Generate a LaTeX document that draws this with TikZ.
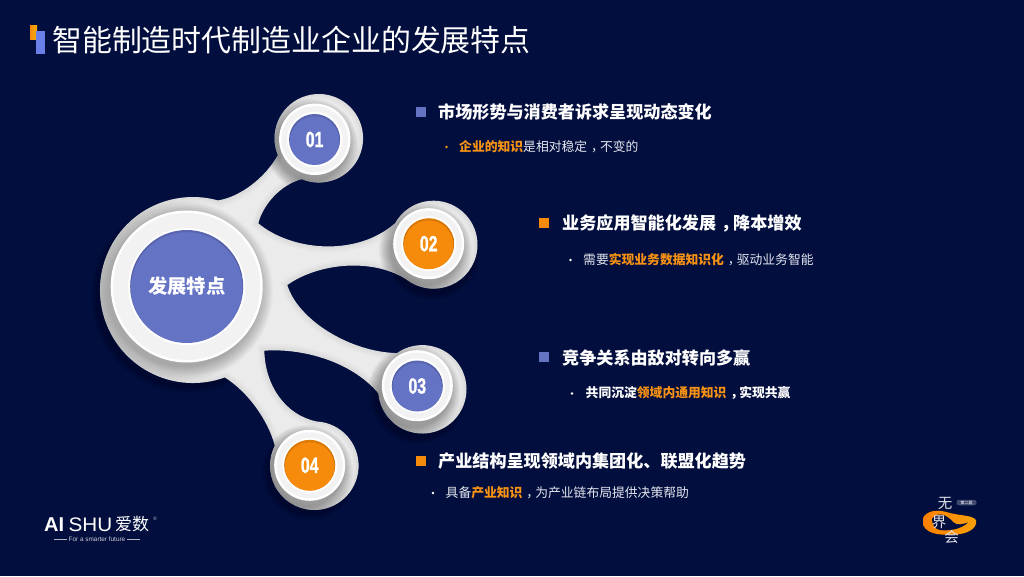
\documentclass[tikz,border=0pt]{standalone}
\usepackage{fontspec}
\setmainfont{Noto Sans CJK SC}
\newfontfamily\numf[FakeStretch=0.72,BoldFeatures={FakeBold=1.2}]{Liberation Sans}
\newfontfamily\latf{Liberation Sans}
\newfontfamily\widef[FakeStretch=1.06]{Liberation Sans}
\definecolor{bgc}{HTML}{020E3E}
\definecolor{bluec}{HTML}{6573C5}
\definecolor{orangec}{HTML}{F58A0B}
\definecolor{subc}{HTML}{E4E6EE}
\definecolor{hl}{HTML}{F79214}
\newcommand{\fs}[1]{\fontsize{#1pt}{#1pt}\selectfont}
\newcommand{\hlt}[1]{{\color{hl}\bfseries #1}}
\newcommand{\cma}{\hspace{.3em}，\hspace{-.3em}}
\newcommand{\blobpath}{(218.0,200.4)
  .. controls (240,197) and (265,178) .. (277.84,155.18)
  arc[start angle=202.4,end angle=-112.8,radius=44.3pt]
  .. controls (280,185) and (263,205) .. (258.3,223.3)
  .. controls (290,250) and (355,258) .. (395.05,223.3)
  arc[start angle=150.9,end angle=-125.5,radius=44pt]
  .. controls (375,258) and (320,262) .. (287.3,285)
  .. controls (298,320) and (350,352) .. (396.95,353.1)
  arc[start angle=125,end angle=-175,radius=44.2pt]
  .. controls (350,360) and (300,348) .. (264.3,350.7)
  .. controls (265,385) and (285,415) .. (316.6,421.46)
  arc[start angle=87,end angle=-207,radius=44.3pt]
  .. controls (268,420) and (248,392) .. (224.8,377.4)
  arc[start angle=-70,end angle=-285.6,radius=93pt] -- cycle}
\tikzset{
  x=1pt,y=-1pt,
  heading/.style={anchor=west,inner sep=0pt,text=white,font=\fs{17.1}\bfseries},
  subtext/.style={anchor=west,inner sep=0pt,text=subc,font=\fs{12.8}},
  squarebullet/.style={inner sep=0pt,minimum size=10pt},
  dotbullet/.style={circle,inner sep=0pt,minimum size=2.6pt},
  disc/.style args={#1/#2}{circle,inner sep=0pt,minimum size=#2,fill=#1,text=white,
    path picture={
      \foreach \k in {0.5,1.0,1.5,2.0}
        \draw[black,opacity=.05,line width=1pt]
          ([yshift=-\k pt]path picture bounding box.center) circle[radius=#2/2];
    }},
  numtext/.style={font=\numf\fs{22}\bfseries},
}
\newcommand{\softshadow}[5]{% cx cy r steps alpha
  \foreach \i in {#4,...,0}{
    \fill[black,opacity=#5] (#1,#2) circle[radius=#3pt+\i pt];
  }}
\newcommand{\ringat}[4]{% cx cy r band
  \fill[white] (#1,#2) circle[radius=#3 pt];
  \fill[black!5] (#1,#2) circle[radius=#3pt-2.5pt];
  \fill[white] (#1,#2) circle[radius=#3pt-#4pt];
}
\begin{document}
\begin{tikzpicture}
\useasboundingbox (0,0) rectangle (1024,576);
\fill[bgc] (0,0) rectangle (1024,576);
% soft drop shadow on the background
\foreach \i in {1,...,6}{
  \fill[black,opacity=.035] (432,252) circle[radius=42pt+\i pt];
  \fill[black,opacity=.035] (418,396) circle[radius=42pt+\i pt];
  \fill[black,opacity=.035] (310,472) circle[radius=42pt+\i pt];
  \fill[black,opacity=.035] (188,296) circle[radius=91pt+\i pt];
}
% blob
\fill[black!8] \blobpath;
\begin{scope}
  \clip \blobpath;
  \foreach \w in {12,8,4}
    \draw[black,opacity=.018,line width=\w pt] \blobpath;
  \softshadow{183}{291}{76}{14}{.02}
  \softshadow{311.5}{145.5}{35.7}{11}{.03}
  \softshadow{425.5}{250}{35.5}{11}{.03}
  \softshadow{414}{392}{35.5}{11}{.03}
  \softshadow{306.5}{471.5}{35.5}{11}{.03}
\end{scope}
% rings
\ringat{186.7}{286.5}{76}{17.5}
\ringat{314.8}{139.3}{35.7}{8}
\ringat{428.7}{243.7}{35.5}{8}
\ringat{417.3}{385.7}{35.5}{8}
\ringat{309.7}{465.3}{35.5}{8}
% discs
\node[disc=bluec/113pt,font=\fs{19.3}\bfseries] (main) at (186.7,286.5) {发展特点};
\node[disc=bluec/51pt,numtext] (n1) at (314.6,139.5) {01};
\node[disc=orangec/51pt,numtext] (n2) at (428.7,243.7) {02};
\node[disc=bluec/51pt,numtext] (n3) at (417.3,386) {03};
\node[disc=orangec/51pt,numtext] (n4) at (309.7,465.3) {04};
% title
\fill[left color=orangec,right color=orangec!70!yellow] (30,25) rectangle (37,39.3);
\fill[color={rgb,255:red,107;green,127;blue,232}] (36.2,30.7) rectangle (44.5,54);
\node[anchor=west,inner sep=0pt,text=white,font=\fs{29.9}] (title) at (52,40) {智能制造时代制造业企业的发展特点};
% labels
\node[squarebullet,fill=bluec] (s1) at (421,112) {};
\node[heading] (h1) at (438,112) {市场形势与消费者诉求呈现动态变化};
\node[dotbullet,fill=hl] (d1) at (446.5,147) {};
\node[subtext] (t1) at (459,146.3) {\hlt{企业的知识}是相对稳定\cma 不变的};
\node[squarebullet,fill=orangec] (s2) at (544,223) {};
\node[heading] (h2) at (562,223.5) {业务应用智能化发展\cma 降本增效};
\node[dotbullet,fill=white] (d2) at (570.5,260) {};
\node[subtext] (t2) at (583,259.5) {需要\hlt{实现业务数据知识化}\cma 驱动业务智能};
\node[squarebullet,fill=bluec] (s3) at (544,357) {};
\node[heading] (h3) at (562,357.5) {竞争关系由敌对转向多赢};
\node[dotbullet,fill=white] (d3) at (572,393.5) {};
\node[subtext,font=\fs{12.8}\bfseries,text=white] (t3) at (585.5,393) {共同沉淀\hlt{领域内通用知识}\cma 实现共赢};
\node[squarebullet,fill=orangec] (s4) at (421,461) {};
\node[heading] (h4) at (438,461) {产业结构呈现领域内集团化、联盟化趋势};
\node[dotbullet,fill=white] (d4) at (433,493) {};
\node[subtext] (t4) at (445.5,492.5) {具备\hlt{产业知识}\cma 为产业链布局提供决策帮助};
% AISHU logo
\node[anchor=west,inner sep=0pt,text=white,font=\latf\fs{20}\bfseries] (la) at (44,525) {AI};
\node[anchor=west,inner sep=0pt,text=white,font=\widef\fs{19.5}] (lb) at (68.5,525) {SHU};
\node[anchor=west,inner sep=0pt,text=white,font=\fs{17}] (lc) at (115,524.5) {爱数};
\node[inner sep=0pt,text=white!70!bgc,font=\latf\fs{5}] (lr) at (155,519) {®};
\node[inner sep=0pt,text=white!80!bgc,font=\latf\fs{6.4}] (ld) at (97,539) {For a smarter future};
\draw[white!70!bgc,line width=.5pt] (ld.west)++(-1.5,0) -- ++(-13.5,0);
\draw[white!70!bgc,line width=.5pt] (ld.east)++(1.5,0) -- ++(13.5,0);
% event logo
\fill[left color=orange,right color=orangec!80!yellow]
  (923,518) .. controls (927,510) and (938,509) .. (950,513)
  .. controls (962,516) and (972,515) .. (976,520)
  .. controls (978,529) and (966,534) .. (956,534.5)
  .. controls (945,535) and (928,536) .. (923,525) -- cycle;
\fill[bgc] (932,519) .. controls (937,512) and (945,513) .. (953,522)
  .. controls (957,526) and (963,524) .. (968,522.5)
  .. controls (960,530) and (948,531) .. (940,530)
  .. controls (935,529) and (932,525) .. (932,519) -- cycle;
\node[inner sep=0pt,text=white!88!bgc,font=\fs{14.5}] (w1) at (945,503) {无};
\node[inner sep=0pt,text=white!88!bgc,font=\fs{14.5}] (w2) at (939,522) {界};
\node[inner sep=0pt,text=white!88!bgc,font=\fs{14.5}] (w3) at (951.5,537) {会};
\node[rounded corners=2.5pt,fill=white!25!bgc,minimum width=20pt,minimum height=5.5pt,inner sep=0pt,text=white,font=\fs{4}] (w4) at (966.5,502.5) {第二届};
\end{tikzpicture}
\end{document}
